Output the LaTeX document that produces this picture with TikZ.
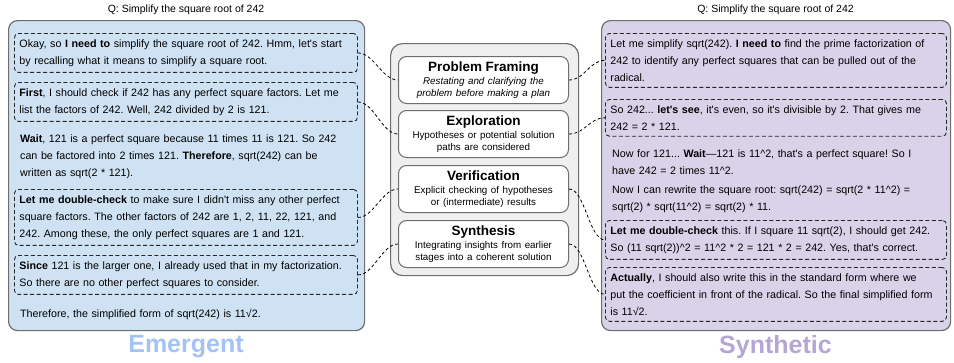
\documentclass[tikz,border=0pt]{standalone}
\usepackage{fontspec}
\setmainfont{Liberation Sans}[Ligatures=TeXOff]
\usetikzlibrary{positioning}
\frenchspacing
\hyphenpenalty=10000
\exhyphenpenalty=10000

\definecolor{panelblue}{HTML}{CFE2F3}
\definecolor{panelpurple}{HTML}{D9D2E9}
\definecolor{labelblue}{HTML}{A4C2F4}
\definecolor{labelpurple}{HTML}{B4A7D6}
\definecolor{stagegray}{HTML}{EFEFEF}
\definecolor{edgegray}{HTML}{6E6E6E}

% title + description inside a stage box
\newcommand\stagetext[2]{{\fontsize{13.5}{16}\selectfont\bfseries #1\par}\vspace{1.5pt}{\fontsize{9.8}{11.5}\selectfont #2\par}}

\begin{document}
\begin{tikzpicture}[x=1pt,y=-1pt,
  every node/.style={font=\fontsize{10.7}{17}\selectfont},
  panel/.style={draw=edgegray, line width=1.2pt, rounded corners=9pt, inner sep=0pt, anchor=north west},
  thought/.style={draw=black!85, dash pattern=on 4pt off 2.5pt, line width=0.9pt,
    rounded corners=4pt, inner xsep=5pt, inner ysep=6pt, anchor=north west, align=left},
  para/.style={inner sep=0pt, anchor=north west, align=left},
  stagebox/.style={draw=edgegray, fill=white, line width=1pt, rounded corners=8pt,
    minimum width=170pt, minimum height=47pt, text width=166pt, align=center,
    inner sep=0pt, anchor=north west},
  link/.style={dash pattern=on 3pt off 2.5pt, line width=0.8pt},
  question/.style={font=\fontsize{10.5}{12}\selectfont},
  caption/.style={font=\fontsize{25}{28}\selectfont\bfseries}
]
\useasboundingbox (0,0) rectangle (954,362);

% ---------- panels ----------
\node (lpanel) [panel, fill=panelblue, minimum width=356pt, minimum height=310pt] at (8,20) {};
\node (rpanel) [panel, fill=panelpurple, minimum width=349pt, minimum height=310pt] at (601,20) {};
\node (stages) [panel, fill=stagegray, rounded corners=12pt, minimum width=188pt, minimum height=232pt] at (390,43) {};

\node (ql) [question] at (186,10) {Q: Simplify the square root of 242};
\node (qr) [question] at (775.5,10) {Q: Simplify the square root of 242};

% ---------- left trace ----------
\node (l1) [thought, text width=333pt] at (14,33)
  {Okay, so \textbf{I need to} simplify the square root of 242. Hmm, let's start\\by recalling what it means to simplify a square root.};
\node (l2) [thought, text width=333pt] at (14,82)
  {\textbf{First}, I should check if 242 has any perfect square factors. Let me\\list the factors of 242. Well, 242 divided by 2 is 121.};
\node (lw) [para, text width=333pt] at (20,135)
  {\textbf{Wait}, 121 is a perfect square because 11 times 11 is 121. So 242\\can be factored into 2 times 121. \textbf{Therefore}, sqrt(242) can be\\written as sqrt(2 * 121).};
\node (l3) [thought, text width=333pt] at (14,189)
  {\textbf{Let me double-check} to make sure I didn't miss any other perfect\\square factors. The other factors of 242 are 1, 2, 11, 22, 121, and\\242. Among these, the only perfect squares are 1 and 121.};
\node (l4) [thought, text width=333pt] at (14,255)
  {\textbf{Since} 121 is the larger one, I already used that in my factorization.\\So there are no other perfect squares to consider.};
\node (lt) [para, text width=333pt] at (20,309)
  {Therefore, the simplified form of sqrt(242) is 11√2.};

% ---------- right trace ----------
\node (r1) [thought, text width=331pt] at (605,33)
  {Let me simplify sqrt(242). \textbf{I need to} find the prime factorization of\\242 to identify any perfect squares that can be pulled out of the\\radical.};
\node (r2) [thought, text width=331pt] at (605,99)
  {So 242... \textbf{let's see}, it's even, so it's divisible by 2. That gives me\\242 = 2 * 121.};
\node (rp1) [para, text width=331pt] at (612,150)
  {Now for 121... \textbf{Wait}—121 is 11\textasciicircum2, that's a perfect square! So I\\have 242 = 2 times 11\textasciicircum2.};
\node (rp2) [para, text width=331pt] at (612,186)
  {Now I can rewrite the square root: sqrt(242) = sqrt(2 * 11\textasciicircum2) =\\sqrt(2) * sqrt(11\textasciicircum2) = sqrt(2) * 11.};
\node (r3) [thought, text width=331pt] at (605,220)
  {\textbf{Let me double-check} this. If I square 11 sqrt(2), I should get 242.\\So (11 sqrt(2))\textasciicircum2 = 11\textasciicircum2 * 2 = 121 * 2 = 242. Yes, that's correct.};
\node (r4) [thought, text width=331pt] at (605,267)
  {\textbf{Actually}, I should also write this in the standard form where we\\put the coefficient in front of the radical. So the final simplified form\\is 11√2.};

% ---------- reasoning stages ----------
\node (pf) [stagebox] at (398,56)
  {\stagetext{Problem Framing}{\itshape Restating and clarifying the\\problem before making a plan}};
\node (ex) [stagebox] at (398,110)
  {\stagetext{Exploration}{Hypotheses or potential solution\\paths are considered}};
\node (ve) [stagebox] at (398,165)
  {\stagetext{Verification}{Explicit checking of hypotheses\\or (intermediate) results}};
\node (sy) [stagebox] at (398,220)
  {\stagetext{Synthesis}{Integrating insights from earlier\\stages into a coherent solution}};

% ---------- links ----------
\draw[link] (l1.east) .. controls +(16,0) and +(-16,0) .. (pf.west);
\draw[link] (l2.east) .. controls +(16,0) and +(-16,0) .. (ex.west);
\draw[link] (l3.east) .. controls +(16,0) and +(-16,0) .. (ve.west);
\draw[link] (l4.east) .. controls +(16,0) and +(-16,0) .. (sy.west);
\draw[link] (pf.east) .. controls +(16,0) and +(-16,0) .. (r1.west);
\draw[link] (ex.east) .. controls +(16,0) and +(-16,0) .. (r2.west);
\draw[link] (ve.east) .. controls +(16,0) and +(-16,0) .. (r3.west);
\draw[link] (sy.east) .. controls +(16,0) and +(-16,0) .. (r4.west);

% ---------- captions ----------
\node (emergent) [caption, text=labelblue] at (186,347) {Emergent};
\node (synthetic) [caption, text=labelpurple] at (775.5,347) {Synthetic};
\end{tikzpicture}
\end{document}
